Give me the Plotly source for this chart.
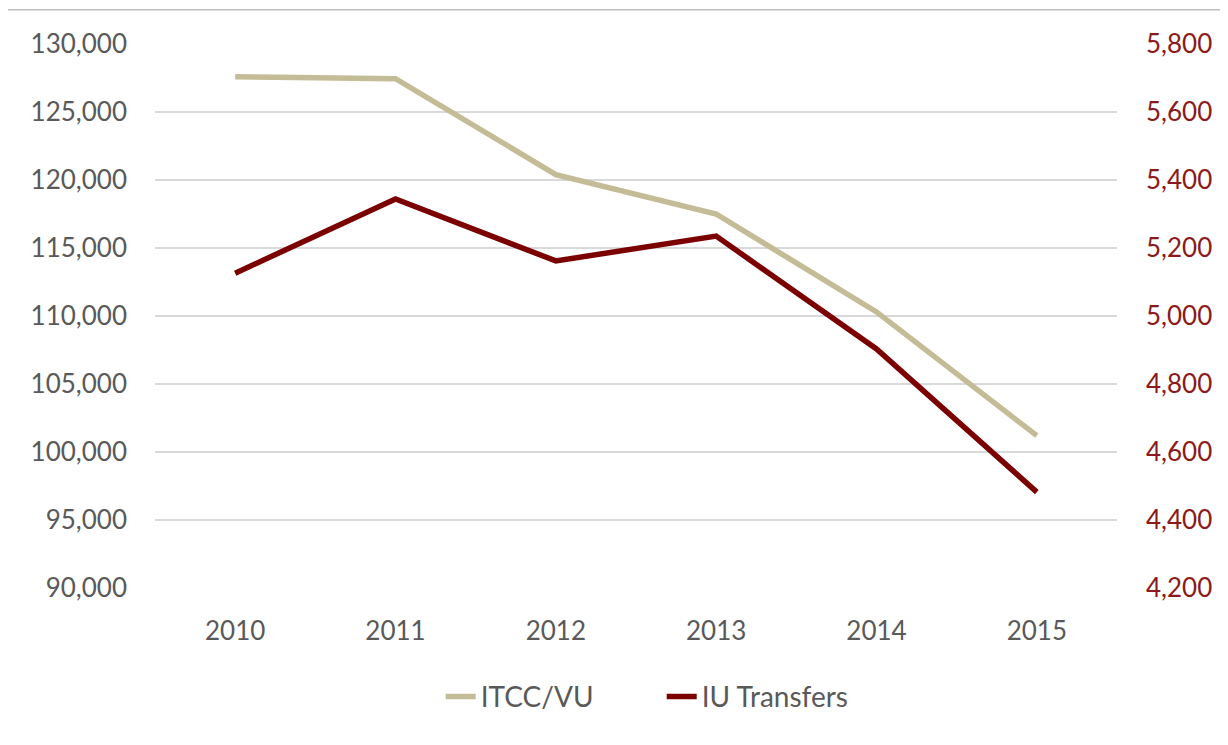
import plotly.graph_objects as go

years = ["2010", "2011", "2012", "2013", "2014", "2015"]
itcc_vu = [127600, 127450, 120400, 117500, 110300, 101200]
iu_transfers = [5126, 5344, 5162, 5235, 4903, 4482]

left_ticks = list(range(90000, 130001, 5000))
right_ticks = list(range(4200, 5801, 200))

font_family = "Lato, 'Open Sans', sans-serif"

fig = go.Figure()

fig.add_trace(go.Scatter(x=years, y=itcc_vu, mode='lines', name='ITCC/VU',
                         line=dict(color='#C4BC96', width=5.5)))
fig.add_trace(go.Scatter(x=years, y=iu_transfers, mode='lines', name='IU Transfers',
                         yaxis='y2', line=dict(color='#7B0000', width=5.5)))

# page body adds an 8px offset, so the figure is a bit smaller than the window
fig.update_layout(
    width=1220, height=737,
    margin=dict(l=147, r=111, t=36, b=157),
    paper_bgcolor='white', plot_bgcolor='white',
    font=dict(family=font_family, size=26, color='#595959'),
    xaxis=dict(type='category', range=[-0.5, 5.5], showgrid=False, zeroline=False,
               showline=False, ticks='', ticklabelstandoff=25),
    yaxis=dict(range=[90000, 130000], tickvals=left_ticks, tickformat=',',
               showgrid=True, gridcolor='#D9D9D9', gridwidth=1.5, zeroline=False,
               showline=False, ticklabelstandoff=27),
    yaxis2=dict(range=[4200, 5800], tickvals=right_ticks, tickformat=',',
                overlaying='y', side='right', showgrid=False, zeroline=False,
                showline=False, ticklabelstandoff=28,
                tickfont=dict(color='#8B1A1A')),
    legend=dict(orientation='h', x=0.297, xanchor='left', y=-0.2, yanchor='middle',
                font=dict(size=28, color='#595959'), entrywidth=176,
                entrywidthmode='pixels'),
    showlegend=True,
    shapes=[dict(type='line', xref='paper', yref='paper', x0=-0.16, x1=1.12,
                 y0=1.063, y1=1.063, line=dict(color='#BFBFBF', width=1.5))],
)

fig.write_html("out.html")
